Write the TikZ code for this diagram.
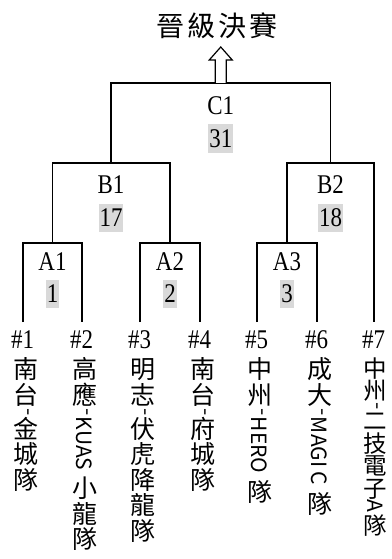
\documentclass[tikz,border=0pt]{standalone}
\usepackage{fontspec}
\setmainfont{Liberation Serif}[FakeStretch=0.85]
\newfontfamily\cjk{Noto Sans CJK TC}
\usepackage{graphicx}
\usepackage{tikz}
\usetikzlibrary{positioning,calc}

\newcommand\rot[1]{\omit\hfil\rotatebox[origin=c]{-90}{\fontsize{21}{24}\selectfont#1}\hfil}
\newcommand\vname[2][1.5pt]{\vbox{\baselineskip=-1000pt\lineskiplimit=0pt\lineskip=#1%
    \halign{\hfil\vrule height 0.86em depth 0.1em width 0pt##\hfil\cr#2\crcr}}}

\begin{document}
\begin{tikzpicture}
        [
    x=1pt, y=-1pt,
    line/.style={line width=1.7pt},
    lbl/.style={font=\fontsize{27}{30}\selectfont, inner sep=0pt, anchor=base},
    score/.style={font=\fontsize{27}{30}\selectfont, fill=gray!30, inner xsep=0.8pt, inner ysep=0pt, minimum height=28pt},
    team/.style={font=\fontsize{25}{28}\cjk, inner sep=0pt, anchor=north},
    blockarrow/.style={draw, line width=1.2pt, fill=white, line join=miter}
    ]
    \useasboundingbox (0,0) rectangle (391,559);

    % Pies de cada equipo
    \foreach \i/\x in {1/23, 2/82, 3/140, 4/200, 5/257, 6/317, 7/374}
        \coordinate (l\i) at (\x,322);
    % Cruces
    \coordinate (a1) at (52.5,243);
    \coordinate (a2) at (170,243);
    \coordinate (a3) at (287,243);
    \coordinate (b1) at (111,163);
    \coordinate (b2) at (330.5,163);
    \coordinate (c1) at (220.75,83);

    \draw [line] (l1) |- (a1) -| (l2);
    \draw [line] (l3) |- (a2) -| (l4);
    \draw [line] (l5) |- (a3) -| (l6);
    \draw [line] (a1) |- (b1) -| (a2);
    \draw [line] (a3) |- (b2) -| (l7);
    \draw [line] (b1) |- (c1) -| (b2);

    % Final
    \node [font=\fontsize{28}{30}\cjk, inner sep=0pt] (ttl) at (217,26) {晉\hspace{3pt}級\hspace{3pt}決\hspace{3pt}賽};
    \draw [blockarrow] ([xshift=-5.5pt]c1) -- ++(0,-23) -- ++(-6,0) -- ++(11.5,-13)
        -- ++(11.5,13) -- ++(-6,0) -- ++(0,23);

    % Nombres y puntajes de los cruces
    \node [lbl] (nc1) at (c1 |- 0,115) {C1};
    \node [score] (sc1) at (c1 |- 0,138.5) {31};
    \node [lbl] (nb1) at (b1 |- 0,193) {B1};
    \node [score] (sb1) at (b1 |- 0,217.5) {17};
    \node [lbl] (nb2) at (b2 |- 0,193) {B2};
    \node [score] (sb2) at (b2 |- 0,217.5) {18};
    \node [lbl] (na1) at (a1 |- 0,270) {A1};
    \node [score] (sa1) at (a1 |- 0,294) {1};
    \node [lbl] (na2) at (a2 |- 0,270) {A2};
    \node [score] (sa2) at (a2 |- 0,294) {2};
    \node [lbl] (na3) at (a3 |- 0,270) {A3};
    \node [score] (sa3) at (a3 |- 0,294) {3};

    % Numeros de los equipos
    \foreach \i in {1,...,7}
        \node [lbl] (s\i) at ($(l\i |- 0,348)+(-0.5,0)$) {\#\i};

    % Nombres de los equipos
    \node [team] (t1) at ($(l1 |- 0,357)+(2.5,0)$) {\vname{南\cr 台\cr\rot{-}\cr 金\cr 城\cr 隊}};
    \node [team] (t2) at ($(l2 |- 0,357)+(2.5,0)$) {\vname{高\cr 應\cr\rot{-}\cr\rot{KUAS\ }\cr 小\cr 龍\cr 隊}};
    \node [team] (t3) at ($(l3 |- 0,357)+(2.5,0)$) {\vname{明\cr 志\cr\rot{-}\cr 伏\cr 虎\cr 降\cr 龍\cr 隊}};
    \node [team] (t4) at ($(l4 |- 0,357)+(2.5,0)$) {\vname{南\cr 台\cr\rot{-}\cr 府\cr 城\cr 隊}};
    \node [team] (t5) at ($(l5 |- 0,357)+(2.5,0)$) {\vname{中\cr 州\cr\rot{-}\cr\rot{HERO\ }\cr 隊}};
    \node [team] (t6) at ($(l6 |- 0,357)+(2.5,0)$) {\vname{成\cr 大\cr\rot{-}\cr\rot{MAGI C\ }\cr 隊}};
    \node [team, font=\fontsize{23.5}{26}\cjk] (t7) at ($(l7 |- 0,357)+(1,0)$) {\vname[0pt]{中\cr 州\cr\rot{-}\cr 二\cr 技\cr 電\cr 子\cr\rot{A}\cr 隊}};
\end{tikzpicture}
\end{document}
